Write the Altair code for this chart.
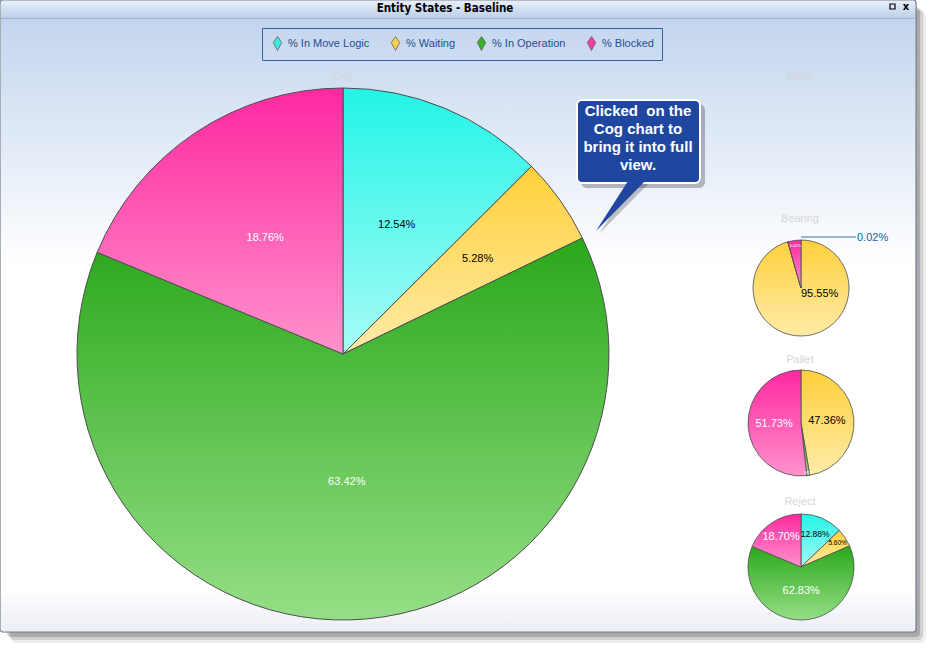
import math
import altair as alt
import pandas as pd

# ---------------- data ----------------
entities = ["Cog", "Bearing", "Pallet", "Reject"]
states = ["% In Move Logic", "% Waiting", "% In Operation", "% Blocked"]
cog_values = [12.54, 5.28, 63.42, 18.76]
bearing_values = [0.02, 95.55, 0.00, 4.43]
pallet_values = [0.00, 47.36, 0.91, 51.73]
reject_values = [12.88, 5.60, 62.83, 18.70]
pie_titles = ["Cog", "Blank", "Bearing", "Pallet", "Reject"]
window_title = "Entity States - Baseline"
callout_lines = ["Clicked \u00a0on the", "Cog chart to", "bring it into full", "view."]

rows = []
for ent, vals in zip(entities, [cog_values, bearing_values, pallet_values, reject_values]):
    for i, (s, v) in enumerate(zip(states, vals)):
        rows.append({"entity": ent, "state": s, "order": i, "value": v})
df = pd.DataFrame(rows)
state_df = pd.DataFrame({"state": states})
one = alt.Data(values=[{}])

# ---------------- styles ----------------
LABEL_FONT = "Liberation Sans"
flat_colors = ["#3fe9e0", "#fbd050", "#3bb02e", "#f03fa0"]
grad_stops = [("#22f4e7", "#a8fcf6"), ("#ffd03a", "#ffeba8"),
              ("#2aa81b", "#95df86"), ("#ff28a0", "#ff92cc")]


def vgrad(stops):
    return alt.Gradient(gradient="linear",
                        stops=[alt.GradientStop(color=c, offset=o) for c, o in stops],
                        x1=0, x2=0, y1=0, y2=1)


TS = alt.Scale(domain=[0, 1], range=[0, 2 * math.pi])
geom = {"Cog": (343, 354, 266), "Bearing": (801, 288, 48),
        "Pallet": (801, 423, 53), "Reject": (801, 567, 53)}
title_pos = {"Cog": (343, 77), "Blank": (800, 77), "Bearing": (800, 219),
             "Pallet": (800, 360), "Reject": (800, 502)}


def stacked(entity):
    return (alt.Chart(df)
            .transform_filter(alt.datum.entity == entity)
            .transform_stack(as_=["v0", "v1"], stack="value", groupby=[],
                             sort=[alt.SortField("order", "ascending")],
                             offset="normalize"))


def rect(x, x2, y, y2, **kw):
    return alt.Chart(one).mark_rect(**kw).encode(
        x=alt.value(x), x2=alt.value(x2), y=alt.value(y), y2=alt.value(y2))


def text(t, x, y, **kw):
    return alt.Chart(one).mark_text(text=t, **kw).encode(x=alt.value(x), y=alt.value(y))


layers = []

# ---------------- window frame ----------------
layers.append(rect(11, 926, 11, 643, fill="#000000", opacity=0.07, cornerRadius=6))
layers.append(rect(9, 923, 9, 640, fill="#000000", opacity=0.12, cornerRadius=5))
layers.append(rect(7, 920, 7, 637, fill="#000000", opacity=0.18, cornerRadius=4))
layers.append(rect(0, 916, 0, 632, fill="#ffffff", stroke="#6f7886", strokeWidth=1.2, cornerRadius=3))
layers.append(rect(1, 915, 1, 18, fill=vgrad([("#e6eefa", 0), ("#bcd0ea", 1)])))
layers.append(rect(1, 915, 18, 19, fill="#9db3d2"))
layers.append(rect(1, 915, 19, 631, fill=vgrad([("#c3d5ee", 0), ("#ffffff", 0.4),
                                                ("#ffffff", 0.93), ("#eceef6", 1)])))
layers.append(text(window_title, 445, 9, font="DejaVu Sans Condensed", fontWeight="bold",
                   fontSize=11.5, color="#000000", baseline="middle", align="center"))
layers.append(rect(890, 895, 4, 9, fill="transparent", stroke="#000000", strokeWidth=1.2))
layers.append(text("x", 906, 7, font="DejaVu Sans", fontWeight="bold", fontSize=10,
                   color="#000000", baseline="middle", align="center"))

# ---------------- legend (invisible points carrying the colour legend) ----------------
kite = "M0,-1 L0.6,-0.15 L0,1 L-0.6,-0.15 Z"
layers.append(
    alt.Chart(state_df).mark_point(filled=True, opacity=0, shape=kite, size=196).encode(
        x=alt.value(-50), y=alt.value(-50),
        color=alt.Color("state:N", scale=alt.Scale(domain=states, range=flat_colors),
                        legend=alt.Legend(
                            title=None, orient="none", legendX=262, legendY=28,
                            direction="horizontal", columns=4, padding=8,
                            strokeColor="#2b62a8", symbolType=kite, symbolSize=196,
                            symbolOpacity=1, symbolStrokeColor="#555555",
                            symbolStrokeWidth=0.7, labelFont=LABEL_FONT,
                            labelFontSize=11, labelColor="#1f4f8f", labelOffset=3,
                            columnPadding=18)))
)

# ---------------- pies ----------------
for ent in entities:
    cx, cy, R = geom[ent]
    for k, st in enumerate(states):
        layers.append(
            stacked(ent)
            .transform_filter(alt.datum.state == st)
            .mark_arc(outerRadius=R, fill=vgrad([(grad_stops[k][0], 0), (grad_stops[k][1], 1)]),
                      stroke="#4d4d4d", strokeWidth=1 if R > 100 else 0.8)
            .encode(theta=alt.Theta("v0:Q", scale=TS, stack=False),
                    theta2="v1:Q", x=alt.value(cx), y=alt.value(cy))
        )


def label(ent, order, r, size, align="center", dx=0, dy=0):
    cx, cy, _ = geom[ent]
    return (stacked(ent)
            .transform_filter(alt.datum.order == order)
            .transform_calculate(mid="(datum.v0 + datum.v1) / 2",
                                 lab="format(datum.value, '.2f') + '%'",
                                 tc="datum.order >= 2 ? 'white' : 'black'")
            .mark_text(radius=r, fontSize=size, align=align, dx=dx, dy=dy,
                       baseline="middle", font=LABEL_FONT)
            .encode(theta=alt.Theta("mid:Q", scale=TS, stack=False),
                    text="lab:N", color=alt.Color("tc:N", scale=None),
                    x=alt.value(cx), y=alt.value(cy)))


layers += [
    label("Cog", 0, 140, 11), label("Cog", 1, 165, 11),
    label("Cog", 2, 128, 11), label("Cog", 3, 140, 11),
    label("Bearing", 1, 0, 11, align="left", dy=6),
    label("Bearing", 3, 42, 4),
    label("Pallet", 1, 26, 11), label("Pallet", 3, 27, 11),
    label("Pallet", 2, 50, 3),
    label("Reject", 0, 36, 8.5), label("Reject", 1, 44, 6.5),
    label("Reject", 2, 24, 11), label("Reject", 3, 36, 11),
]

# Bearing 0.02% outside label with leader line
layers.append(alt.Chart(one).mark_rule(color="#3a6ea8", strokeWidth=1).encode(
    x=alt.value(801), x2=alt.value(856), y=alt.value(237), y2=alt.value(237)))
layers.append(text(f"{bearing_values[0]:.2f}%", 857, 238, font=LABEL_FONT, fontSize=11,
                   color="#1f5fa0", align="left", baseline="middle"))

# faint pie titles
for t in pie_titles:
    x, y = title_pos[t]
    layers.append(text(t, x, y, font=LABEL_FONT, fontSize=11, color="#d6d6d6",
                       align="center", baseline="middle"))

# ---------------- callout ----------------
pointer = "M0.296,-0.981 L0.963,-0.981 L-0.963,0.981 Z"
layers.append(rect(581, 705, 104, 188, fill="#000000", opacity=0.25, cornerRadius=6))
layers.append(alt.Chart(one).mark_point(shape=pointer, size=2916, filled=True,
                                        fill="#000000", opacity=0.22, strokeWidth=0)
              .encode(x=alt.value(625), y=alt.value(207.5)))
layers.append(rect(577, 700, 100, 183, fill="#2047a0", stroke="#ffffff", strokeWidth=2,
                   cornerRadius=5))
layers.append(alt.Chart(one).mark_point(shape=pointer, size=2916, filled=True,
                                        fill="#2047a0", opacity=1, strokeWidth=0)
              .encode(x=alt.value(622), y=alt.value(204.5)))
layers.append(text(callout_lines, 638, 111, font="Liberation Sans", fontWeight="bold",
                   fontSize=15, color="#ffffff", align="center", baseline="middle",
                   lineHeight=18))

chart = alt.layer(*layers).properties(
    width=931, height=648, padding=0, autosize="none", background="white"
).configure_view(stroke="transparent")

chart.save("out.html", embed_options={"renderer": "svg", "actions": False})
